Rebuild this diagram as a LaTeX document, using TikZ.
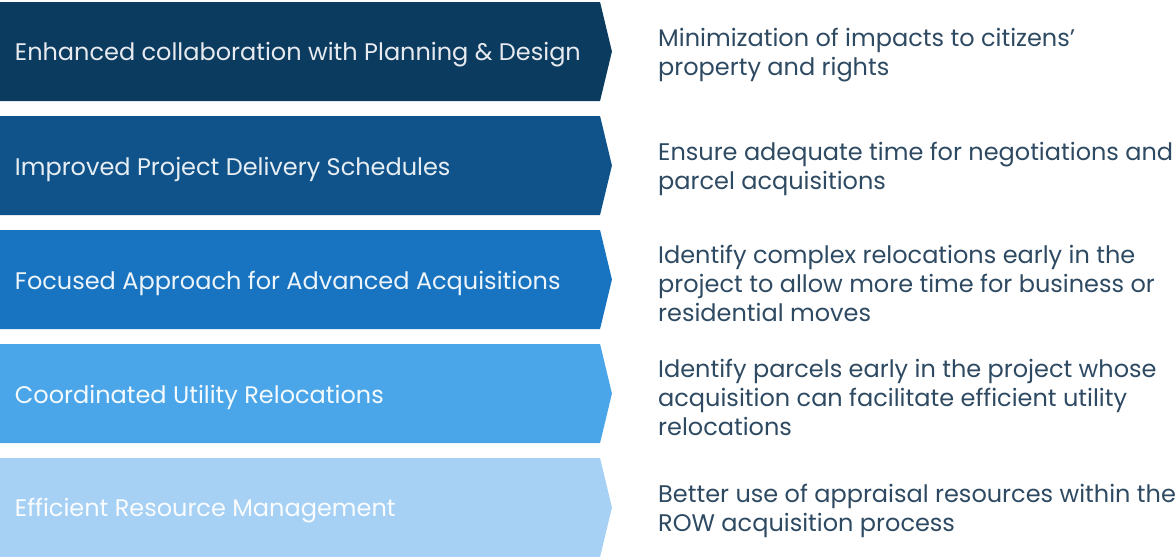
\documentclass[tikz,border=0pt]{standalone}
\usepackage{fontspec}
\setmainfont{Poppins}
\usetikzlibrary{positioning,shapes.symbols}
\definecolor{chevA}{HTML}{0C3B60}
\definecolor{chevB}{HTML}{10538A}
\definecolor{chevC}{HTML}{1874C0}
\definecolor{chevD}{HTML}{4AA6E8}
\definecolor{chevE}{HTML}{A6D1F4}
\definecolor{noteText}{HTML}{2E4A62}
\tikzset{
  chevron/.style={signal, signal to=east, signal pointer angle=153,
    minimum width=612pt, minimum height=99pt, inner sep=0pt, draw=none},
  chevlabel/.style={anchor=west, inner sep=0pt, yshift=-3.5pt,
    font=\fontsize{24}{28}\selectfont},
  note/.style={anchor=west, align=left, text=noteText, yshift=-3.5pt,
    font=\fontsize{24}{29}\selectfont, inner sep=0pt}
}
\begin{document}
\begin{tikzpicture}[x=1pt,y=-1pt]
    \useasboundingbox (0,0) rectangle (1176,557);
    % chevrons, dark to light
    \node[chevron, fill=chevA] (c1) at (300,51.5) {};
    \node[chevron, fill=chevB] (c2) at (300,165.5) {};
    \node[chevron, fill=chevC] (c3) at (300,279.5) {};
    \node[chevron, fill=chevD] (c4) at (300,393.5) {};
    \node[chevron, fill=chevE] (c5) at (300,507.5) {};
    % labels inside the chevrons
    \node[chevlabel, text=white!90!chevA] (l1) at ([xshift=15pt]c1.west) {Enhanced collaboration with Planning \& Design};
    \node[chevlabel, text=white!90!chevB] (l2) at ([xshift=15pt]c2.west) {Improved Project Delivery Schedules};
    \node[chevlabel, text=white!92!chevC] (l3) at ([xshift=15pt]c3.west) {Focused Approach for Advanced Acquisitions};
    \node[chevlabel, text=white!94!chevD] (l4) at ([xshift=15pt]c4.west) {Coordinated Utility Relocations};
    \node[chevlabel, text=white!94!chevE] (l5) at ([xshift=15pt]c5.west) {Efficient Resource Management};
    % outcomes on the right
    \node[note] (n1) at (658,51.5) {Minimization of impacts to citizens’\\property and rights};
    \node[note] (n2) at (658,165.5) {Ensure adequate time for negotiations and\\parcel acquisitions};
    \node[note] (n3) at (658,279.5) {Identify complex relocations early in the\\project to allow more time for business or\\residential moves};
    \node[note] (n4) at (658,393.5) {Identify parcels early in the project whose\\acquisition can facilitate efficient utility\\relocations};
    \node[note] (n5) at (658,507.5) {Better use of appraisal resources within the\\ROW acquisition process};
  \end{tikzpicture}
\end{document}
